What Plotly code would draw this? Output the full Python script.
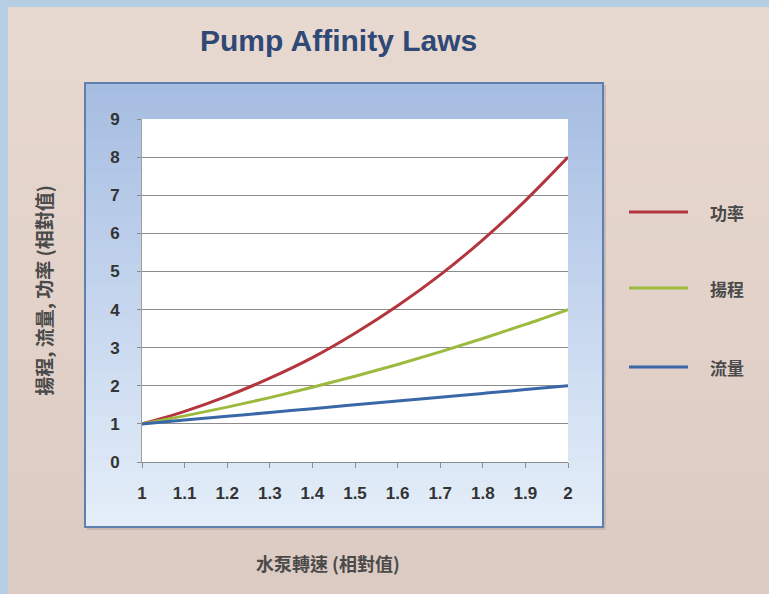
import plotly.graph_objects as go

# ---- data ----
speed = [1.0, 1.1, 1.2, 1.3, 1.4, 1.5, 1.6, 1.7, 1.8, 1.9, 2.0]
power = [1.0, 1.33, 1.73, 2.20, 2.74, 3.38, 4.10, 4.91, 5.83, 6.86, 8.0]
head = [1.0, 1.21, 1.44, 1.69, 1.96, 2.25, 2.56, 2.89, 3.24, 3.61, 4.0]
flow = [1.0, 1.1, 1.2, 1.3, 1.4, 1.5, 1.6, 1.7, 1.8, 1.9, 2.0]
series_names = ["功率", "揚程", "流量"]
series_values = [power, head, flow]
series_colors = ["#b3353d", "#9cbb3e", "#3a67a8"]
x_ticks = [1.0, 1.1, 1.2, 1.3, 1.4, 1.5, 1.6, 1.7, 1.8, 1.9, 2.0]
x_tick_labels = ["1", "1.1", "1.2", "1.3", "1.4", "1.5", "1.6", "1.7", "1.8", "1.9", "2"]
y_ticks = [0, 1, 2, 3, 4, 5, 6, 7, 8, 9]
title_text = "Pump Affinity Laws"
x_title = "水泵轉速 (相對值)"
y_title = "揚程, 流量, 功率 (相對值)"

W, H = 769, 594
L, R, T, B = 142, 568, 119, 462  # plot area in pixels


def px(x):
    return (x - L) / (R - L)


def py(y):
    return (B - y) / (B - T)


def mix(c1, c2, t):
    a = [int(c1[i:i + 2], 16) for i in (1, 3, 5)]
    b = [int(c2[i:i + 2], 16) for i in (1, 3, 5)]
    return "#%02x%02x%02x" % tuple(round(a[k] + (b[k] - a[k]) * t) for k in range(3))


fig = go.Figure()
for name, vals, col in zip(series_names, series_values, series_colors):
    fig.add_trace(go.Scatter(x=speed, y=vals, mode="lines", name=name,
                             line=dict(color=col, width=3, shape="spline"),
                             showlegend=False, hoverinfo="x+y+name"))

shapes = []
# beige panel with subtle gradient
N = 30
for i in range(N):
    y0 = 7 + (594 - 7) * i / N
    y1 = 7 + (594 - 7) * (i + 1) / N + 1
    shapes.append(dict(type="rect", xref="paper", yref="paper", layer="below",
                       x0=px(8), x1=px(769), y0=py(y1), y1=py(y0),
                       fillcolor=mix("#e8d9d0", "#dccbc3", i / (N - 1)), line_width=0))
# frame shadow
shapes.append(dict(type="rect", xref="paper", yref="paper", layer="below",
                   x0=px(87), x1=px(606), y0=py(530), y1=py(85),
                   fillcolor="#b9a9a6", line_width=0, opacity=0.6))
# blue gradient frame
N = 40
for i in range(N):
    y0 = 83 + (527 - 83) * i / N
    y1 = 83 + (527 - 83) * (i + 1) / N + 0.6
    shapes.append(dict(type="rect", xref="paper", yref="paper", layer="below",
                       x0=px(85), x1=px(603), y0=py(y1), y1=py(y0),
                       fillcolor=mix("#a6bde2", "#e4eef9", i / (N - 1)), line_width=0))
shapes.append(dict(type="rect", xref="paper", yref="paper", layer="below",
                   x0=px(85), x1=px(603), y0=py(527), y1=py(83),
                   fillcolor="rgba(0,0,0,0)", line=dict(color="#5f7fae", width=2)))
# white plot area
shapes.append(dict(type="rect", xref="paper", yref="paper", layer="below",
                   x0=0, x1=1, y0=0, y1=1, fillcolor="white", line_width=0))

annotations = [
    dict(text="<b>" + title_text + "</b>", xref="paper", yref="paper",
         x=px(338), y=py(40), showarrow=False, xanchor="center", yanchor="middle",
         font=dict(family="Liberation Sans Narrow, Liberation Sans, Arial", size=30, color="#2f4875")),
    dict(text=x_title, xref="paper", yref="paper",
         x=px(328), y=py(563), showarrow=False, xanchor="center", yanchor="middle",
         font=dict(family="Noto Sans CJK TC", size=18, color="#4a4a4a", weight="bold")),
]

# legend drawn at right
leg_y = [212, 288, 367]
for name, col, yy in zip(series_names, series_colors, leg_y):
    shapes.append(dict(type="line", xref="paper", yref="paper",
                       x0=px(629), x1=px(688), y0=py(yy), y1=py(yy),
                       line=dict(color=col, width=3)))
    annotations.append(dict(text=name, xref="paper", yref="paper", x=px(708), y=py(yy),
                            showarrow=False, xanchor="left", yanchor="middle",
                            font=dict(family="Noto Sans CJK TC", size=17, color="#4a4a4a",
                                      weight="bold")))

fig.update_layout(
    width=W, height=H,
    margin=dict(l=L, r=W - R, t=T, b=H - B, pad=0),
    paper_bgcolor="#b5cee4",
    plot_bgcolor="white",
    shapes=shapes,
    annotations=annotations,
    showlegend=False,
    font=dict(family="Noto Sans CJK TC", color="#333333"),
    xaxis=dict(
        range=[1, 2], tickvals=x_ticks, ticktext=x_tick_labels,
        showgrid=False, zeroline=False,
        showline=True, linecolor="#8c8c8c", linewidth=1,
        ticks="outside", ticklen=5, tickcolor="#8c8c8c", tickwidth=1,
        ticklabelstandoff=11,
        tickfont=dict(family="Liberation Sans", size=17, color="#333333", weight="bold"),
        fixedrange=True,
    ),
    yaxis=dict(
        range=[0, 9], tickvals=y_ticks,
        showgrid=True, gridcolor="#8c8c8c", gridwidth=1, zeroline=False,
        showline=True, linecolor="#a0a0a0", linewidth=1,
        ticks="outside", ticklen=4, tickcolor="#8c8c8c", tickwidth=1,
        ticklabelstandoff=14,
        tickfont=dict(family="Liberation Sans", size=17, color="#333333", weight="bold"),
        title=dict(text=y_title, standoff=52,
                   font=dict(family="Noto Sans CJK TC", size=19, color="#4a4a4a", weight="bold")),
        fixedrange=True,
    ),
)

fig.write_html("out.html")
